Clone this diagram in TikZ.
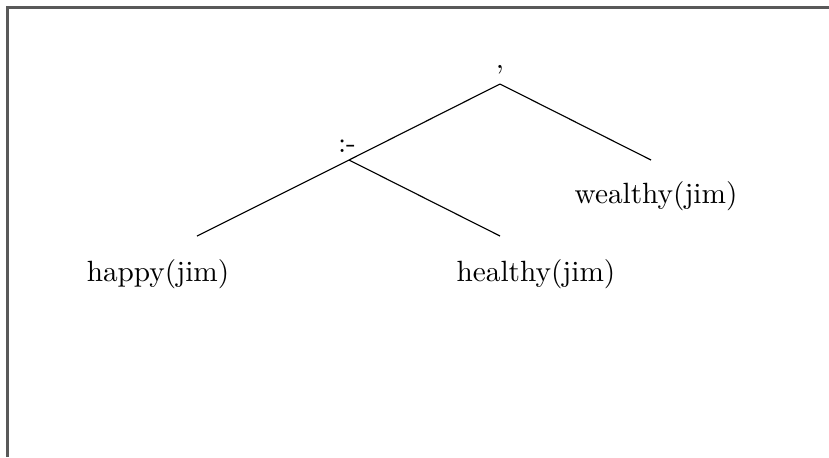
\documentclass[tikz,border=0pt]{standalone}
\usepackage{tikz}
\usetikzlibrary{positioning}

\begin{document}
\begin{tikzpicture}[
        x=0.3517pt, y=-0.3517pt, % pixel grid
        % Define node styles
        functor/.style={anchor=base, inner sep=0pt, font=\fontsize{10.3}{12}\selectfont},
        term/.style={anchor=base, inner sep=0pt, font=\fontsize{10.3}{12}\selectfont},
        branch/.style={line width=0.4pt},
        frame/.style={draw=black!65, line width=0.75pt}
    ]
    \useasboundingbox (0,0) rectangle (829,457);

    % --- Frame ---
    \draw[frame] (7.5,457) -- (7.5,7.5) -- (829,7.5);

    % --- Junctions ---
    \coordinate (top) at (500,84);
    \coordinate (neck) at (349,160);

    % Free ends of the branches
    \coordinate (leftend) at (197,236);
    \coordinate (midend) at (500,236);
    \coordinate (rightend) at (651,160);

    % --- Labels ---
    \node[functor] (comma) at (500,68) {,};
    \node[functor] (if) at (347,152) {:-};
    \node[term] (happy) at (158,281) {happy(jim)};
    \node[term] (healthy) at (536,281) {healthy(jim)};
    \node[term] (wealthy) at (656,203) {wealthy(jim)};

    % --- Connecting Lines ---
    \draw[branch] (top) -- (neck);
    \draw[branch] (top) -- (rightend);
    \draw[branch] (neck) -- (leftend);
    \draw[branch] (neck) -- (midend);

\end{tikzpicture}
\end{document}
